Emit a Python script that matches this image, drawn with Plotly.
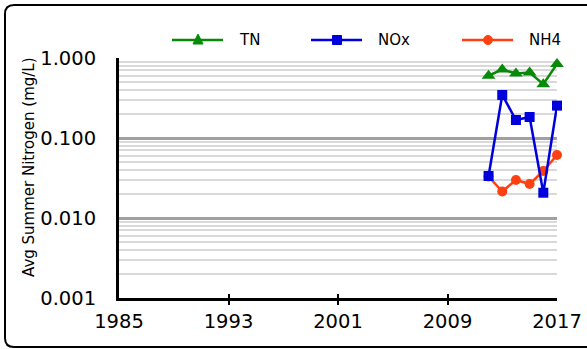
import plotly.graph_objects as go

years = [2012, 2013, 2014, 2015, 2016, 2017]
tn = [0.60, 0.72, 0.64, 0.66, 0.47, 0.84]
nox = [0.0335, 0.345, 0.168, 0.183, 0.0207, 0.254]
nh4 = [0.033, 0.0214, 0.0299, 0.0266, 0.0387, 0.0613]

x_ticks = [1985, 1993, 2001, 2009, 2017]
y_ticks = [0.001, 0.01, 0.1, 1.0]
y_labels = ["0.001", "0.010", "0.100", "1.000"]
y_minor = [m * 10 ** e for e in (-3, -2, -1) for m in range(2, 10)]

FONT = "Verdana, DejaVu Sans, sans-serif"
C_TN, C_NOX, C_NH4 = "#078a07", "#0000dd", "#ff4010"

W, H = 587, 349
ML, MR, MT, MB = 119, 30, 58, 51
pw, ph = W - ML - MR, H - MT - MB


def px(x):
    return (x - ML) / pw


def py(y):
    return 1 - (y - MT) / ph


fig = go.Figure()
fig.add_trace(go.Scatter(x=years, y=tn, name="TN", mode="lines+markers",
                         line=dict(color=C_TN, width=2.5),
                         marker=dict(symbol="triangle-up", size=12, color=C_TN),
                         cliponaxis=False))
fig.add_trace(go.Scatter(x=years, y=nh4, name="NH4", mode="lines+markers",
                         line=dict(color=C_NH4, width=2.5),
                         marker=dict(symbol="circle", size=10, color=C_NH4),
                         cliponaxis=False))
fig.add_trace(go.Scatter(x=years, y=nox, name="NOx", mode="lines+markers",
                         line=dict(color=C_NOX, width=2.5),
                         marker=dict(symbol="square", size=10, color=C_NOX),
                         cliponaxis=False))

fig.update_layout(
    width=W, height=H,
    margin=dict(l=ML, r=MR, t=MT, b=MB),
    paper_bgcolor="white", plot_bgcolor="white",
    font=dict(family=FONT, color="#000000"),
    showlegend=False,
)
fig.update_xaxes(
    range=[1985, 2017], tickvals=x_ticks, ticktext=[str(v) for v in x_ticks],
    showgrid=False, zeroline=False, automargin=False,
    showline=True, linecolor="#000000", linewidth=2.5,
    ticks="inside", ticklen=4, tickwidth=2, tickcolor="#000000",
    tickfont=dict(size=19.5, family=FONT), ticklabelstandoff=4,
    minor=dict(tickvals=x_ticks, ticks="outside", ticklen=4, tickwidth=2,
               tickcolor="#000000", showgrid=False),
)
fig.update_yaxes(
    type="log", range=[-3, 0], tickvals=y_ticks, ticktext=y_labels,
    showgrid=True, gridcolor="#a0a0a0", gridwidth=2.5, zeroline=False, automargin=False,
    showline=True, linecolor="#000000", linewidth=3,
    ticks="", tickfont=dict(size=19.5, family=FONT), ticklabelstandoff=16,
    minor=dict(tickvals=y_minor, showgrid=True, gridcolor="#d9d9d9", gridwidth=2, ticks=""),
)

# y-axis title
fig.add_annotation(text="Avg Summer Nitrogen (mg/L)", textangle=-90,
                   xref="paper", yref="paper", x=px(29), y=py(167),
                   xanchor="center", yanchor="middle",
                   showarrow=False, font=dict(size=15, family=FONT))

# manual legend
legend_items = [
    ("TN", C_TN, 172, "triangle"),
    ("NOx", C_NOX, 311, "square"),
    ("NH4", C_NH4, 462, "circle"),
]
ly = 40
for name, col, lx, sym in legend_items:
    fig.add_shape(type="line", xref="paper", yref="paper",
                  x0=px(lx), x1=px(lx + 51), y0=py(ly), y1=py(ly),
                  line=dict(color=col, width=2.5))
    cx = lx + 26
    if sym == "triangle":
        s = 5
        path = (f"M {px(cx - s)},{py(ly + 4)} L {px(cx + s)},{py(ly + 4)} "
                f"L {px(cx)},{py(ly - 6)} Z")
        fig.add_shape(type="path", xref="paper", yref="paper", path=path,
                      fillcolor=col, line=dict(color=col, width=1))
    elif sym == "square":
        s = 4.5
        fig.add_shape(type="rect", xref="paper", yref="paper",
                      x0=px(cx - s), x1=px(cx + s), y0=py(ly - s), y1=py(ly + s),
                      fillcolor=col, line=dict(color=col, width=1))
    else:
        s = 4.5
        fig.add_shape(type="circle", xref="paper", yref="paper",
                      x0=px(cx - s), x1=px(cx + s), y0=py(ly - s), y1=py(ly + s),
                      fillcolor=col, line=dict(color=col, width=1))
    fig.add_annotation(text=name, xref="paper", yref="paper",
                       x=px(lx + 65), y=py(ly), xanchor="left", yanchor="middle",
                       showarrow=False, font=dict(size=15, family=FONT, color="#000000"))

# rounded outer border (extends past right edge)
r = 9
x0, x1, y0, y1 = 5, 595, 5, 347
path = (f"M {px(x1)},{py(y0)} L {px(x0 + r)},{py(y0)} "
        f"Q {px(x0)},{py(y0)} {px(x0)},{py(y0 + r)} "
        f"L {px(x0)},{py(y1 - r)} Q {px(x0)},{py(y1)} {px(x0 + r)},{py(y1)} "
        f"L {px(x1)},{py(y1)}")
fig.add_shape(type="path", xref="paper", yref="paper", path=path,
              line=dict(color="#000000", width=2), layer="above")

fig.write_html("out.html", config={"displayModeBar": False},
               post_script="document.body.style.margin='0';")
